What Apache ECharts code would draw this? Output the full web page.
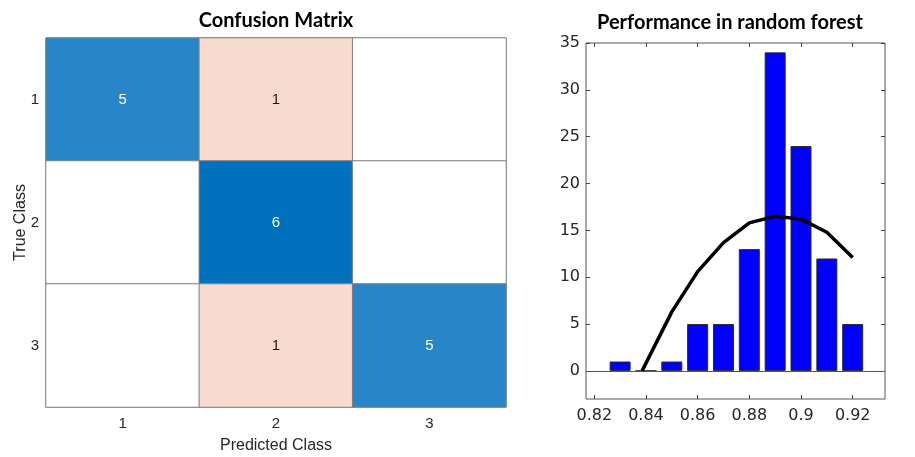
<!DOCTYPE html>
<html>
<head>
<meta charset="utf-8">
<script src="https://cdn.jsdelivr.net/npm/echarts@6/dist/echarts.min.js"></script>
<style>html,body{margin:0;padding:0;background:#fff}#c{width:915px;height:457px}</style>
</head>
<body>
<div id="c"></div>
<script>
// Confusion matrix data
const classes = ['1', '2', '3'];
const matrix = [
  [5, 1, 0],
  [0, 6, 0],
  [0, 1, 5]
];
// Histogram data
const binCenters = [0.83, 0.84, 0.85, 0.86, 0.87, 0.88, 0.89, 0.90, 0.91, 0.92];
const binCounts = [1, 0, 1, 5, 5, 13, 34, 24, 12, 5];
const fitX = [0.8385, 0.85, 0.86, 0.87, 0.88, 0.89, 0.90, 0.91, 0.92];
const fitY = [0, 6.3, 10.6, 13.7, 15.8, 16.5, 16.2, 14.8, 12.1];
const xTicks = [0.82, 0.84, 0.86, 0.88, 0.90, 0.92];
const yTicks = [0, 5, 10, 15, 20, 25, 30, 35];

function cellColor(r, c, v) {
  if (v === 0) return '#ffffff';
  if (r === c) return v >= 6 ? '#0072BD' : '#2886C8';
  return '#F7DBCF';
}
const heatData = [];
for (let r = 0; r < 3; r++) {
  for (let c = 0; c < 3; c++) {
    const v = matrix[r][c];
    heatData.push({
      value: [c, r, v],
      itemStyle: { color: cellColor(r, c, v) },
      label: { color: (r === c && v > 0) ? '#ffffff' : '#1a1a1a' }
    });
  }
}

const chart = echarts.init(document.getElementById('c'), null, { renderer: 'canvas' });
const tickFont = 'Liberation Sans';
const histFont = 'DejaVu Sans';
chart.setOption({
  animation: false,
  backgroundColor: '#ffffff',
  graphic: [
    { type: 'text', x: 276, y: 21, style: { text: 'Confusion Matrix', font: 'bold 20px Lato', fill: '#000', textAlign: 'center', textVerticalAlign: 'middle' } },
    { type: 'text', x: 730, y: 23, style: { text: 'Performance in random forest', font: 'bold 20px Lato', fill: '#000', textAlign: 'center', textVerticalAlign: 'middle' } }
  ],
  grid: [
    { left: 46, top: 38, width: 460, height: 369, show: true, borderColor: '#8c8c8c', borderWidth: 1, backgroundColor: 'transparent', outerBoundsMode: 'none', containLabel: false },
    { left: 586, top: 43, width: 299, height: 356, show: true, borderColor: '#555', borderWidth: 1, backgroundColor: 'transparent', outerBoundsMode: 'none', containLabel: false }
  ],
  xAxis: [
    { type: 'category', gridIndex: 0, data: classes, axisLine: { show: false }, axisTick: { show: false }, splitLine: { show: false },
      axisLabel: { margin: 9, color: '#262626', fontFamily: tickFont, fontSize: 15 },
      name: 'Predicted Class', nameLocation: 'middle', nameGap: 31, nameMoveOverlap: false, nameTextStyle: { color: '#262626', fontFamily: tickFont, fontSize: 16 } },
    { type: 'value', gridIndex: 1, min: 0.8168, max: 0.9325, position: 'bottom',
      axisLine: { show: false, onZero: false }, splitLine: { show: false },
      axisTick: { show: true, inside: true, length: 4, customValues: xTicks, lineStyle: { color: '#444' } },
      axisLabel: { customValues: xTicks, margin: 9, color: '#262626', fontFamily: histFont, fontSize: 16,
        formatter: v => String(parseFloat(v.toFixed(2))) } },
    { type: 'value', gridIndex: 1, min: 0.8168, max: 0.9325, position: 'top',
      axisLine: { show: false, onZero: false }, splitLine: { show: false },
      axisTick: { show: true, inside: true, length: 4, customValues: xTicks, lineStyle: { color: '#444' } },
      axisLabel: { show: false } }
  ],
  yAxis: [
    { type: 'category', gridIndex: 0, data: classes, inverse: true, axisLine: { show: false }, axisTick: { show: false }, splitLine: { show: false },
      axisLabel: { margin: 7, color: '#262626', fontFamily: tickFont, fontSize: 15 },
      name: 'True Class', nameLocation: 'middle', nameGap: 17, nameRotate: 90, nameMoveOverlap: false, nameTextStyle: { color: '#262626', fontFamily: tickFont, fontSize: 16 } },
    { type: 'value', gridIndex: 1, min: -3, max: 35, position: 'left',
      axisLine: { show: false, onZero: false }, splitLine: { show: false },
      axisTick: { show: true, inside: true, length: 4, customValues: yTicks, lineStyle: { color: '#444' } },
      axisLabel: { customValues: yTicks, margin: 6, color: '#262626', fontFamily: histFont, fontSize: 16 } },
    { type: 'value', gridIndex: 1, min: -3, max: 35, position: 'right',
      axisLine: { show: false, onZero: false }, splitLine: { show: false },
      axisTick: { show: true, inside: true, length: 4, customValues: yTicks, lineStyle: { color: '#444' } },
      axisLabel: { show: false } }
  ],
  series: [
    { type: 'heatmap', xAxisIndex: 0, yAxisIndex: 0, data: heatData,
      itemStyle: { borderColor: '#808080', borderWidth: 1 },
      label: { show: true, fontFamily: tickFont, fontSize: 15, formatter: p => p.value[2] === 0 ? '' : String(p.value[2]) } },
    { type: 'bar', xAxisIndex: 1, yAxisIndex: 1, barWidth: 21,
      data: binCenters.map((x, i) => [x, binCounts[i]]),
      itemStyle: { color: '#0000FF', borderColor: '#2b2b2b', borderWidth: 1 },
      markLine: { silent: true, symbol: 'none', label: { show: false }, lineStyle: { color: '#555', width: 1, type: 'solid' }, data: [{ yAxis: 0 }] } },
    { type: 'line', xAxisIndex: 1, yAxisIndex: 1, data: fitX.map((x, i) => [x, fitY[i]]),
      showSymbol: false, symbol: 'none', smooth: false, z: 5,
      lineStyle: { color: '#000', width: 3.5 } }
  ]
});
</script>
</body>
</html>
